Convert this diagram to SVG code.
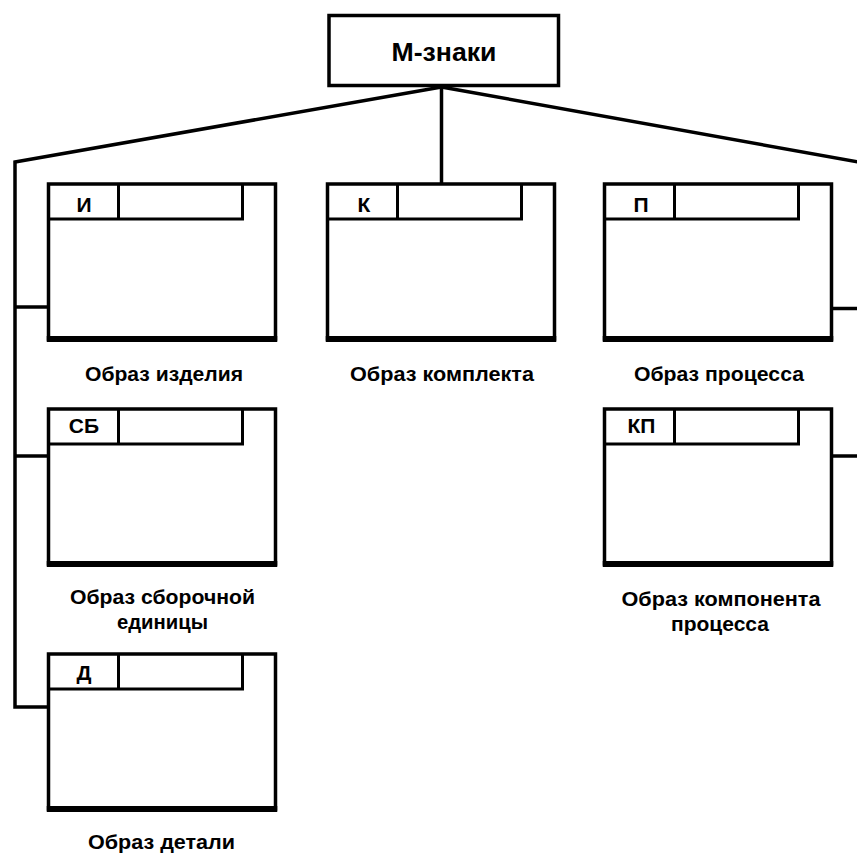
<svg xmlns="http://www.w3.org/2000/svg" width="857" height="854" viewBox="0 0 857 854">
<style>
  .box { fill: #fff; stroke: #000; stroke-width: 3.5; }
  .bot { stroke: #000; stroke-width: 6; }
  .hdr { fill: none; stroke: #000; stroke-width: 3; }
  .con { fill: none; stroke: #000; stroke-width: 3.5; stroke-linejoin: miter; }
  .code { font-family: "Liberation Sans", Arial, sans-serif; font-weight: bold; font-size: 21px; text-anchor: middle; fill: #000; }
  .lbl { font-family: "Liberation Sans", Arial, sans-serif; font-weight: bold; font-size: 20px; text-anchor: middle; fill: #000; }
  .title { font-family: "Liberation Sans", Arial, sans-serif; font-weight: bold; font-size: 26px; text-anchor: middle; fill: #000; }
</style>
<defs>
  <g id="card">
    <rect class="box" x="0" y="0" width="227" height="155"/>
    <line class="bot" x1="-1.75" y1="155" x2="228.75" y2="155"/>
    <path class="hdr" d="M0 35 H194 V0 M70 0 V35"/>
  </g>
</defs>
<rect width="857" height="854" fill="#fff"/>

<g id="connectors">
  <line class="con" x1="441.5" y1="86" x2="441.5" y2="184" stroke-width="3"/>
  <polyline class="con" points="441.5,87 15,162 15,707 48.5,707"/>
  <line class="con" x1="15" y1="307" x2="48.5" y2="307"/>
  <line class="con" x1="15" y1="456" x2="48.5" y2="456"/>
  <polyline class="con" points="441.5,87 875,165"/>
  <line class="con" x1="831.5" y1="308.5" x2="860" y2="308.5"/>
  <line class="con" x1="831.5" y1="456" x2="860" y2="456"/>
</g>

<g id="m-znaki">
  <rect class="box" x="329" y="15.5" width="229.5" height="70" stroke-width="4"/>
  <text class="title" x="444" y="61" textLength="105" lengthAdjust="spacingAndGlyphs">М-знаки</text>
</g>

<g id="izdelie">
  <use href="#card" x="48.5" y="184"/>
  <text class="code" x="84" y="212">И</text>
  <text class="lbl" x="164" y="381" textLength="158" lengthAdjust="spacingAndGlyphs">Образ изделия</text>
</g>

<g id="komplekt">
  <use href="#card" x="327.5" y="184"/>
  <text class="code" x="364" y="212">К</text>
  <text class="lbl" x="442" y="381" textLength="184" lengthAdjust="spacingAndGlyphs">Образ комплекта</text>
</g>

<g id="process">
  <use href="#card" x="604.5" y="184"/>
  <text class="code" x="641" y="212">П</text>
  <text class="lbl" x="719" y="381" textLength="170" lengthAdjust="spacingAndGlyphs">Образ процесса</text>
</g>

<g id="sborochnaya">
  <use href="#card" x="48.5" y="409"/>
  <text class="code" x="84" y="433">СБ</text>
  <text class="lbl" x="162.5" y="604" textLength="185" lengthAdjust="spacingAndGlyphs">Образ сборочной</text>
  <text class="lbl" x="162.5" y="629" textLength="91" lengthAdjust="spacingAndGlyphs">единицы</text>
</g>

<g id="komponent">
  <use href="#card" x="604.5" y="409"/>
  <text class="code" x="641.5" y="433">КП</text>
  <text class="lbl" x="721" y="606" textLength="199" lengthAdjust="spacingAndGlyphs">Образ компонента</text>
  <text class="lbl" x="720" y="631" textLength="98" lengthAdjust="spacingAndGlyphs">процесса</text>
</g>

<g id="detal">
  <use href="#card" x="48.5" y="654"/>
  <text class="code" x="84" y="680">Д</text>
  <text class="lbl" x="161.5" y="849" textLength="147" lengthAdjust="spacingAndGlyphs">Образ детали</text>
</g>
</svg>
